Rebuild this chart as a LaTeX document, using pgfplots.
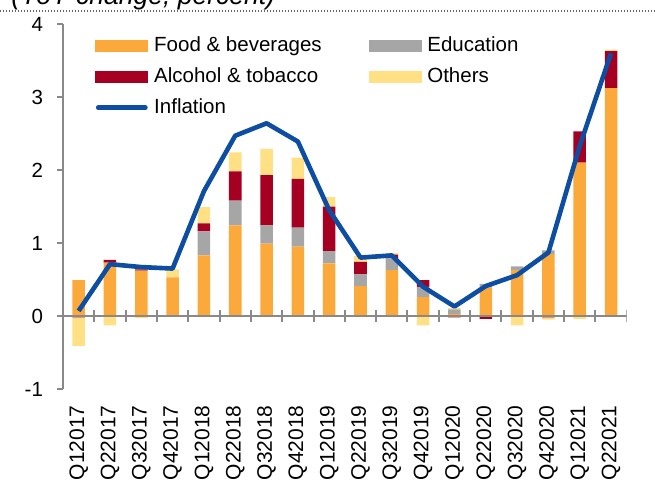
\documentclass[border=0pt]{standalone}
\usepackage{fontspec}
\setmainfont{Liberation Sans}
\usepackage{pgfplots}
\usepackage{pgfplotstable}
\pgfplotsset{compat=1.18}

\definecolor{foodc}{RGB}{251,169,58}
\definecolor{educ}{RGB}{166,166,166}
\definecolor{alcc}{RGB}{165,0,33}
\definecolor{othc}{RGB}{255,224,133}
\definecolor{inflc}{RGB}{13,78,162}
\definecolor{axisgray}{RGB}{137,137,137}

% contributions to yoy CPI change, percentage points
% positive parts stack upwards, negative parts (nalc, noth) downwards
\pgfplotstableread{
x  food edu  alc   oth   nalc  noth  infl
0  0.49 0.00 0.00  0.00  -0.02 -0.39 0.07
1  0.73 0.00 0.04  0.00  0.00  -0.13 0.71
2  0.62 0.00 0.02  0.00  0.00  -0.03 0.67
3  0.53 0.00 0.00  0.11  0.00  0.00  0.65
4  0.83 0.33 0.11  0.22  0.00  0.00  1.71
5  1.24 0.34 0.40  0.26  0.00  0.00  2.47
6  0.99 0.25 0.69  0.36  0.00  0.00  2.64
7  0.95 0.26 0.67  0.29  0.00  0.00  2.39
8  0.72 0.17 0.61  0.13  0.00  0.00  1.45
9  0.41 0.16 0.17  0.08  0.00  0.00  0.80
10 0.63 0.16 0.05  0.02  0.00  0.00  0.83
11 0.26 0.14 0.09  0.00  0.00  -0.13 0.40
12 0.03 0.06 0.00  0.02  -0.02 0.00  0.13
13 0.39 0.05 0.00  0.00  -0.04 0.00  0.41
14 0.63 0.05 0.00  0.00  0.00  -0.13 0.56
15 0.85 0.05 0.00  0.00  -0.02 -0.03 0.87
16 2.10 0.00 0.43  0.00  0.00  -0.04 2.33
17 3.12 0.00 0.51  0.02  0.00  0.00  3.60
}\chartdata

\pgfplotsset{
  panel/.style={
    scale only axis,
    width=281.85bp, height=182.5bp,
    at={(31.5bp,47bp)}, anchor=south west,
    xmin=-0.5, xmax=17.5, ymin=-1, ymax=4,
    bar width=0.4,
  },
}

\begin{document}
\begin{tikzpicture}
\begin{axis}[
    panel,
    ybar stacked,
    axis x line*=bottom,
    axis y line*=left,
    x axis line style={draw=none},
    y axis line style={axisgray, line width=1bp},
    xtick={0,...,17},
    xticklabels={Q12017,Q22017,Q32017,Q42017,Q12018,Q22018,Q32018,Q42018,Q12019,Q22019,Q32019,Q42019,Q12020,Q22020,Q32020,Q42020,Q12021,Q22021},
    xtick style={draw=none},
    ytick={-1,0,1,2,3,4},
    ytick align=outside,
    ytick style={axisgray, line width=1bp},
    major tick length=3bp,
    tick label style={font=\fontsize{10.25bp}{12bp}\selectfont, /pgf/number format/assume math mode=true},
    xticklabel style={rotate=90, anchor=east, inner xsep=8bp, inner ysep=0pt, font=\fontsize{10.5bp}{12bp}\selectfont},
    yticklabel style={inner xsep=0pt, xshift=-6.85bp},
]
\addplot[fill=foodc, draw=none] table[x=x, y=food] {\chartdata};
\addplot[fill=educ, draw=none] table[x=x, y=edu] {\chartdata};
\addplot[fill=alcc, draw=none] table[x=x, y=alc] {\chartdata};
\addplot[fill=othc, draw=none] table[x=x, y=oth] {\chartdata};
\end{axis}

\begin{axis}[panel, ybar stacked, hide axis]
\addplot[fill=alcc, draw=none] table[x=x, y=nalc] {\chartdata};
\addplot[fill=othc, draw=none] table[x=x, y=noth] {\chartdata};
\end{axis}

\begin{axis}[
    panel,
    hide axis,
    legend columns=2,
    legend cell align=left,
    legend style={
        at={(0.0568,0.9682)}, anchor=north west,
        draw=none, fill=none, inner sep=0pt, row sep=5.8bp,
        font=\fontsize{10.25bp}{12bp}\selectfont,
        nodes={inner sep=0pt, text height=7.5bp, text depth=2.2bp, anchor=west},
        /tikz/every odd column/.append style={column sep=3bp},
        /tikz/every even column/.append style={column sep=23.4bp},
    },
]
% zero line with category separators
\draw[axisgray, line width=1bp] (axis cs:-0.5,0) -- (axis cs:17.5,0);
\pgfplotsinvokeforeach{0.5,1.5,...,17.5}{
  \draw[axisgray, line width=1bp] (axis cs:#1,-0.08) -- (axis cs:#1,0.08);
}
\addlegendimage{legend image code/.code={\fill[foodc] (0bp,-2.7bp) rectangle (26bp,2.7bp);}}
\addlegendentry{Food \& beverages}
\addlegendimage{legend image code/.code={\fill[educ] (0bp,-2.7bp) rectangle (26bp,2.7bp);}}
\addlegendentry{Education}
\addlegendimage{legend image code/.code={\fill[alcc] (0bp,-2.7bp) rectangle (26bp,2.7bp);}}
\addlegendentry{Alcohol \& tobacco}
\addlegendimage{legend image code/.code={\fill[othc] (0bp,-2.7bp) rectangle (26bp,2.7bp);}}
\addlegendentry{Others}
\addplot[inflc, line width=2.3bp, line join=round, mark=none,
    legend image code/.code={\draw[inflc, line width=2.3bp, line cap=round] (1.2bp,0bp) -- (24.8bp,0bp);}]
    table[x=x, y=infl] {\chartdata};
\addlegendentry{Inflation}
\end{axis}

% chart title, cut at the top edge as in the source
\begin{scope}
\clip (0,0) rectangle (327.5bp,241.5bp);
\node[anchor=base west, inner sep=0pt, font=\fontsize{13.25bp}{15bp}\selectfont\itshape]
    at (5.5bp,239.25bp) {(YoY change, percent)};
\end{scope}
\draw[black!60, line width=0.6bp, dash pattern=on 0.6bp off 0.9bp] (0,236bp) -- (327.5bp,236bp);

\pgfresetboundingbox
\path[use as bounding box] (0,0) rectangle (327.5bp,241.5bp);
\end{tikzpicture}
\end{document}
